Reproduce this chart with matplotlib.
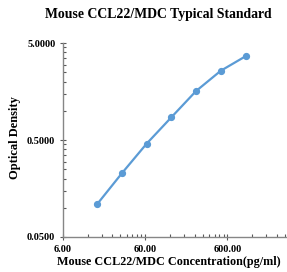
import numpy as np
import matplotlib.pyplot as plt
from matplotlib.ticker import FixedLocator, NullFormatter

## standard curve values
conc = [15.63, 31.25, 62.5, 125, 250, 500, 1000]
od = [0.109, 0.227, 0.458, 0.857, 1.60, 2.59, 3.65]

x_major = [6, 60, 600]
x_labels = ['6.00', '60.00', '600.00']
y_major = [0.05, 0.5, 5.0]
y_labels = ['0.0500', '0.5000', '5.0000']

plt.rcParams['font.family'] = ['Liberation Serif', 'DejaVu Serif']
plt.rcParams['font.weight'] = 'bold'

fig = plt.figure(figsize=(2.87, 2.72), dpi=100)
ax = fig.add_axes([0.2195, 0.1287, 0.7805, 0.713])

ax.plot(conc, od, color='#5b9bd5', linewidth=1.6, marker='o', markersize=4.2)

ax.set_xscale('log')
ax.set_yscale('log')
ax.set_xlim(6, 3200)
ax.set_ylim(0.05, 5.0)

## minor ticks like excel: multiples of the first value in each decade
x_minor = [6 * k * 10 ** n for n in range(3) for k in range(2, 10)]
y_minor = [0.05 * k * 10 ** n for n in range(2) for k in range(2, 10)]
ax.xaxis.set_major_locator(FixedLocator(x_major))
ax.xaxis.set_minor_locator(FixedLocator(x_minor))
ax.yaxis.set_major_locator(FixedLocator(y_major))
ax.yaxis.set_minor_locator(FixedLocator(y_minor))
ax.set_xticklabels(x_labels)
ax.set_yticklabels(y_labels)
ax.xaxis.set_minor_formatter(NullFormatter())
ax.yaxis.set_minor_formatter(NullFormatter())

ax.tick_params(which='major', direction='inout', length=5, width=0.8,
               color='#595959', labelsize=7.5, pad=3)
ax.tick_params(which='minor', direction='in', length=2.5, width=0.8, color='#595959')

for s in ['top', 'right']:
    ax.spines[s].set_visible(False)
for s in ['left', 'bottom']:
    ax.spines[s].set_color('#868686')
    ax.spines[s].set_linewidth(1.0)

fig.text(0.553, 0.945, 'Mouse CCL22/MDC Typical Standard', ha='center', va='center',
         fontsize=9.9, fontweight='bold')
fig.text(0.589, 0.037, 'Mouse CCL22/MDC Concentration(pg/ml)', ha='center', va='center',
         fontsize=8.7, fontweight='bold')
fig.text(0.052, 0.495, 'Optical Density', ha='center', va='center', rotation=90,
         fontsize=9, fontweight='bold')

fig.savefig('out.png', dpi=100)
